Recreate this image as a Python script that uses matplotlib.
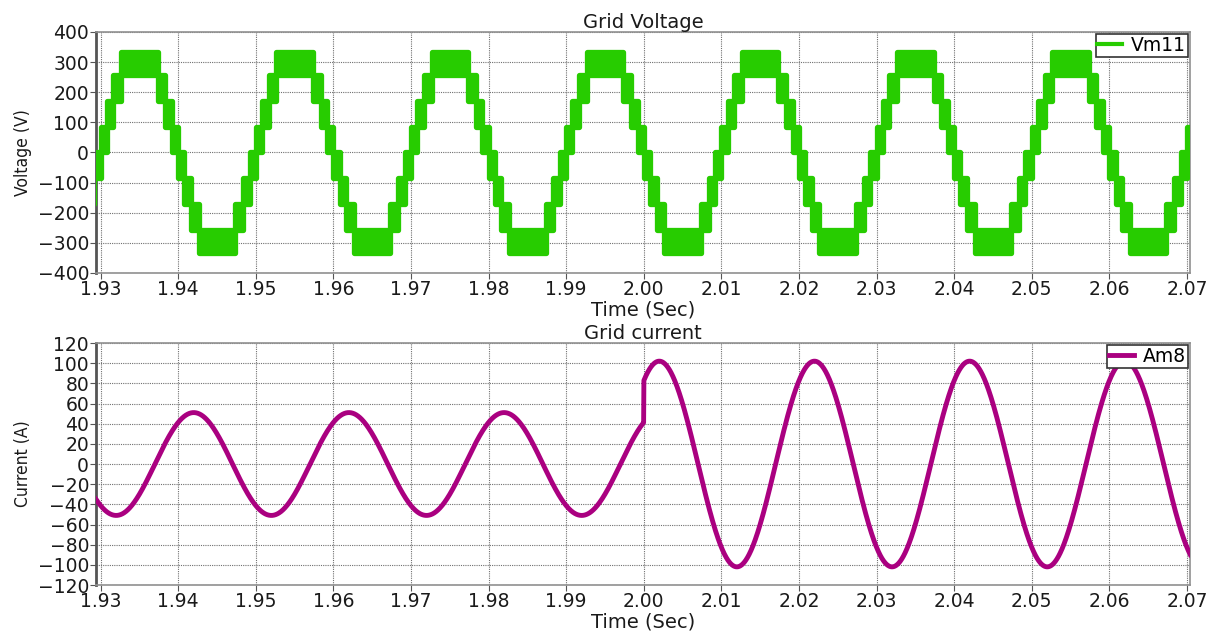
import numpy as np
import matplotlib.pyplot as plt

# ---- data ----
# voltage: multilevel staircase, one period from rising zero crossing (ms)
v_edges_ms = [0, 0.8, 1.65, 2.65, 7.35, 8.35, 9.2, 10.0, 10.8, 11.65, 12.65, 17.35, 18.35, 19.2, 20.0]
v_lower = [0, 85, 170, 257, 170, 85, 0, -85, -170, -257, -334, -257, -170, -85]
v_upper = [85, 170, 257, 334, 257, 170, 85, 0, -85, -170, -257, -170, -85, 0]
v_zero_cross = 1.93   # a rising zero crossing (s)
period = 0.02         # 50 Hz

# current: sinusoid, amplitude steps at 2.00 s
i_peak_time = 1.942
i_step_time = 2.00
i_amp_before = 51
i_amp_after = 102

x_ticks = [1.93, 1.94, 1.95, 1.96, 1.97, 1.98, 1.99, 2.00, 2.01, 2.02, 2.03, 2.04, 2.05, 2.06, 2.07]
v_ticks = [-400, -300, -200, -100, 0, 100, 200, 300, 400]
i_ticks = list(range(-120, 121, 20))
xlim = (1.9294, 2.0704)

green = '#27cc00'
purple = '#aa0080'
txt = '#1a1a1a'

# build voltage band
t_edges, lo, hi = [], [], []
for k in range(-1, 8):
    t0 = v_zero_cross + k * period
    for j in range(len(v_lower)):
        t_edges.append(t0 + v_edges_ms[j] / 1000)
        lo.append(v_lower[j])
        hi.append(v_upper[j])
t_edges.append(v_zero_cross + 8 * period)
lo.append(lo[-1])
hi.append(hi[-1])
t_edges = np.array(t_edges)
lo = np.array(lo)
hi = np.array(hi)

# current curve
t = np.linspace(1.929, 2.071, 4000)
amp = np.where(t < i_step_time, i_amp_before, i_amp_after)
cur = amp * np.cos(2 * np.pi / period * (t - i_peak_time))

plt.rcParams['font.family'] = 'DejaVu Sans'
fig = plt.figure(figsize=(12.21, 6.31), dpi=100)
ax1 = fig.add_axes([0.0786, 0.5674, 0.896, 0.3819])
ax2 = fig.add_axes([0.0786, 0.0729, 0.896, 0.3835])


def style(ax, yt, ylab):
    ax.set_xlim(*xlim)
    ax.set_xticks(x_ticks)
    ax.set_xticklabels(['%.2f' % v for v in x_ticks])
    ax.set_yticks(yt)
    ax.set_ylim(yt[0], yt[-1])
    ax.grid(True, linestyle=(0, (1, 1)), color='#707070', linewidth=0.8)
    ax.tick_params(labelsize=13.5, colors='#555555', labelcolor=txt, length=4, pad=1)
    for s in ['top', 'right', 'bottom']:
        ax.spines[s].set_color('#909090')
        ax.spines[s].set_linewidth(1.2)
    ax.spines['left'].set_color('#555555')
    ax.spines['left'].set_linewidth(2)
    ax.set_xlabel('Time (Sec)', fontsize=14, color=txt, labelpad=1)
    ax.set_ylabel(ylab, fontsize=12.5, color=txt, labelpad=4, fontstretch='condensed')


ax1.fill_between(t_edges, lo, hi, step='post', color=green, edgecolor=green,
                 linewidth=3.8, zorder=3)
ax1.plot([], [], color=green, linewidth=3, label='Vm11')
style(ax1, v_ticks, 'Voltage (V)')
ax1.set_title('Grid Voltage', fontsize=14, color=txt, pad=1)

ax2.plot(t, cur, color=purple, linewidth=3.5, zorder=3, label='Am8')
style(ax2, i_ticks, 'Current (A)')
ax2.set_title('Grid current', fontsize=14, color=txt, pad=1)

for ax in (ax1, ax2):
    leg = ax.legend(loc='upper right', fontsize=13.5, handlelength=1.3,
                    borderaxespad=0.1, borderpad=0.1, handletextpad=0.5,
                    fancybox=False, framealpha=1)
    leg.get_frame().set_edgecolor('#333333')
    leg.get_frame().set_linewidth(1.2)

fig.savefig('out.png', dpi=100)
